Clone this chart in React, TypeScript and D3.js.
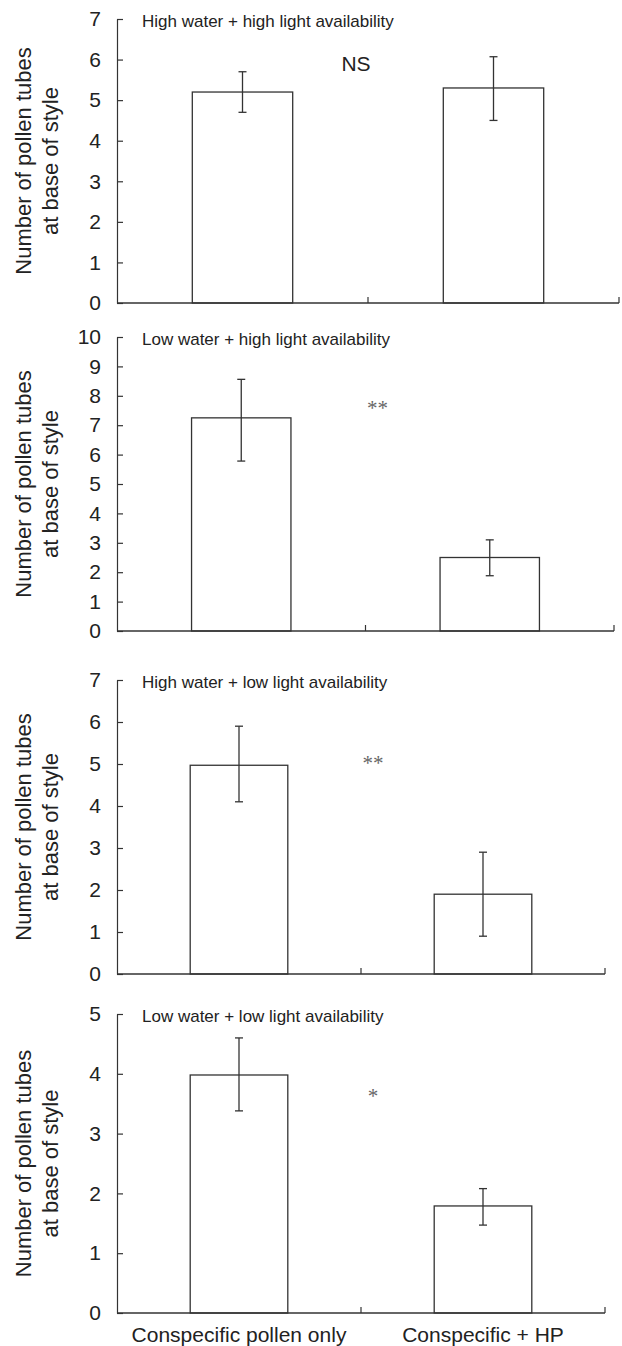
import React, { useEffect, useRef } from 'react';
import * as d3 from 'd3';

const categories = ['Conspecific pollen only', 'Conspecific + HP'];
const panelTitles = [
  'High water + high light availability',
  'Low water + high light availability',
  'High water + low light availability',
  'Low water + low light availability',
];
const yMaxes = [7, 10, 7, 5];
const meanValues = [
  [5.2, 5.3],
  [7.25, 2.5],
  [4.97, 1.9],
  [3.98, 1.79],
];
const errLow = [
  [4.7, 4.5],
  [5.78, 1.88],
  [4.1, 0.9],
  [3.38, 1.47],
];
const errHigh = [
  [5.7, 6.07],
  [8.56, 3.1],
  [5.9, 2.9],
  [4.6, 2.08],
];
const sigLabels = ['NS', '**', '**', '*'];
const sigLevels = [5.71, 7.86, 5.21, 3.76];
const yTitleLines = ['Number of pollen tubes', 'at base of style'];

// pixel frame of each panel
const panelFrames = [
  { top: 19, bottom: 303, right: 619 },
  { top: 337, bottom: 631, right: 614 },
  { top: 680, bottom: 974, right: 605 },
  { top: 1014, bottom: 1313, right: 605 },
];

const W = 622;
const H = 1346;
const axisX = 117;
const ink = '#333';
const sans = '"Liberation Sans", Arial, sans-serif';

const App = () => {
  const svgRef = useRef<SVGSVGElement>(null);

  useEffect(() => {
    const svg = d3.select(svgRef.current);
    svg.selectAll('*').remove();

    panelFrames.forEach((frame, i) => {
      const g = svg.append('g');

      const y = d3.scaleLinear()
        .domain([0, yMaxes[i]])
        .range([frame.bottom, frame.top]);

      const x = d3.scaleBand()
        .domain(categories)
        .range([axisX, frame.right])
        .paddingInner(0.6)
        .paddingOuter(0.3);

      // y axis, ticks point inward
      const yAxis = d3.axisLeft(y)
        .ticks(yMaxes[i])
        .tickSizeInner(-6)
        .tickSizeOuter(0)
        .tickPadding(16);

      const ya = g.append('g')
        .attr('transform', `translate(${axisX},0)`)
        .call(yAxis);
      ya.select('.domain').attr('stroke', ink).attr('stroke-width', 1.2);
      ya.selectAll('.tick line').attr('stroke', ink).attr('stroke-width', 1.2);
      ya.selectAll('.tick text')
        .attr('fill', '#222')
        .style('font-family', sans)
        .style('font-size', '21px');

      // bars
      g.selectAll('.bar')
        .data(categories)
        .enter()
        .append('rect')
        .attr('x', d => x(d)!)
        .attr('y', (d, j) => y(meanValues[i][j]))
        .attr('width', x.bandwidth())
        .attr('height', (d, j) => y(0) - y(meanValues[i][j]))
        .attr('fill', '#fff')
        .attr('stroke', ink)
        .attr('stroke-width', 1.3);

      // error bars
      const cap = 4;
      categories.forEach((c, j) => {
        const cx = x(c)! + x.bandwidth() / 2;
        const lo = y(errLow[i][j]);
        const hi = y(errHigh[i][j]);
        g.append('line')
          .attr('x1', cx).attr('x2', cx)
          .attr('y1', lo).attr('y2', hi)
          .attr('stroke', ink).attr('stroke-width', 1.3);
        [lo, hi].forEach(v => {
          g.append('line')
            .attr('x1', cx - cap).attr('x2', cx + cap)
            .attr('y1', v).attr('y2', v)
            .attr('stroke', ink).attr('stroke-width', 1.3);
        });
      });

      // x axis with ticks at the band edges
      const mid = (axisX + frame.right) / 2;
      const base = y(0);
      g.append('line')
        .attr('x1', axisX).attr('x2', frame.right)
        .attr('y1', base).attr('y2', base)
        .attr('stroke', ink).attr('stroke-width', 1.6);
      [mid, frame.right].forEach(tx => {
        g.append('line')
          .attr('x1', tx).attr('x2', tx)
          .attr('y1', base).attr('y2', base - 6)
          .attr('stroke', ink).attr('stroke-width', 1.2);
      });

      // panel title
      g.append('text')
        .attr('x', 142)
        .attr('y', frame.top + 8)
        .attr('fill', '#222')
        .style('font-family', sans)
        .style('font-size', '17px')
        .text(panelTitles[i]);

      // significance
      const isNS = sigLabels[i] === 'NS';
      g.append('text')
        .attr('x', isNS ? 356 : mid + 12)
        .attr('y', y(sigLevels[i]))
        .attr('dy', isNS ? 0 : '0.7em')
        .attr('text-anchor', 'middle')
        .attr('fill', isNS ? '#222' : '#666')
        .style('font-family', isNS ? sans : '"Liberation Serif", "Times New Roman", serif')
        .style('font-size', isNS ? '21px' : '21px')
        .text(sigLabels[i]);

      // y title
      const cy = (frame.top + frame.bottom) / 2;
      yTitleLines.forEach((line, k) => {
        g.append('text')
          .attr('transform', `translate(${k === 0 ? 31 : 58},${cy}) rotate(-90)`)
          .attr('text-anchor', 'middle')
          .attr('fill', '#222')
          .style('font-family', sans)
          .style('font-size', '22px')
          .text(line);
      });

      // category labels under the last panel
      if (i === panelFrames.length - 1) {
        g.selectAll('.cat')
          .data(categories)
          .enter()
          .append('text')
          .attr('x', d => x(d)! + x.bandwidth() / 2)
          .attr('y', base + 29)
          .attr('text-anchor', 'middle')
          .attr('fill', '#222')
          .style('font-family', sans)
          .style('font-size', '21px')
          .text(d => d);
      }
    });
  }, []);

  return (
    <svg
      ref={svgRef}
      width={W}
      height={H}
      style={{ position: 'absolute', left: 0, top: 0, background: '#fff' }}
    />
  );
};

export default App;
